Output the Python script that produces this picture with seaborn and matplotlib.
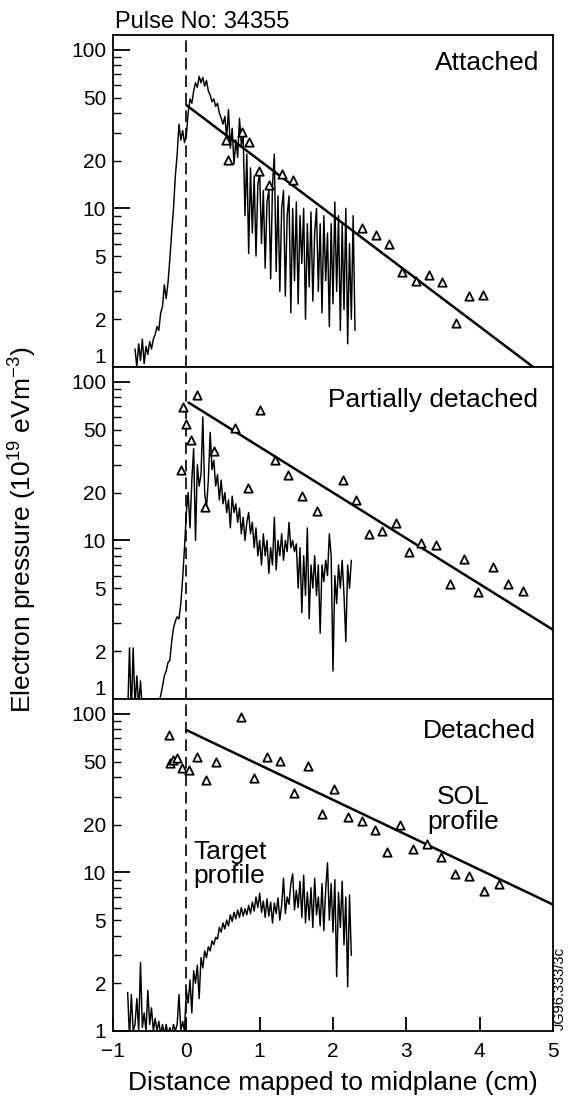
import numpy as np
import pandas as pd
import matplotlib
matplotlib.use("Agg")
import matplotlib.pyplot as plt
import seaborn as sns
from matplotlib.ticker import FixedLocator, FuncFormatter

# ---------------- data ----------------
panel_labels = ["Attached", "Partially detached", "Detached"]
pulse_title = "Pulse No: 34355"

# Target (probe) profiles, sampled every 0.025 cm starting at the given x
target_step = 0.025
target_start_attached = -0.70
target_y_attached = [
    1.3, 1.0, 1.4, 1.1, 1.5, 1.05, 1.35, 1.2, 1.45, 1.3,
    1.5, 1.6, 1.8, 1.7, 2.2, 2.4, 3.3, 2.7, 3.4, 4.8,
    7.0, 10, 16, 22, 34, 27, 31, 26, 29, 40,
    49, 46, 55, 62, 58, 68, 62, 67, 59, 64,
    55, 52, 47, 49, 44, 46, 40, 37, 34, 38,
    28, 42, 24, 32, 19, 27, 21, 37, 25, 29,
    9, 22, 5.2, 18, 7, 16, 5, 14, 17, 6,
    13, 4.2, 11, 13, 3.6, 14, 22, 4, 12, 3.0,
    10, 13, 2.8, 9, 12, 2.2, 10, 3.5, 11, 2.5,
    9, 4.5, 10, 2.0, 8, 3.2, 9.5, 2.6, 7, 10,
    3, 8, 2.2, 9, 3.5, 7, 1.8, 8, 2.5, 11,
    3, 9, 1.7, 8, 2.3, 10, 1.4, 6, 2, 9,
    1.7,
]
target_start_partial = -0.80
target_y_partial = [
    0.8, 2.1, 0.8, 2.1, 0.9, 1.4, 0.9, 1.3, 0.85, 0.8,
    0.8, 0.7, 0.7, 0.7, 0.7, 0.75, 0.85, 0.95, 1.05, 1.2,
    1.4, 1.5, 1.7, 1.75, 2.3, 2.8, 3.1, 3.3, 3.2, 4.0,
    5.8, 9, 15, 20, 12, 24, 38, 10, 30, 22,
    26, 60, 20, 16, 24, 48, 28, 32, 22, 26,
    18, 24, 17, 20, 15, 18, 12, 19, 15, 17,
    13, 16, 11, 14, 10, 13, 15, 11, 13, 9,
    12, 8, 10, 7, 11, 8, 10, 6.2, 9, 7,
    14, 6.5, 10, 8, 11, 7.5, 10, 8.5, 13, 9,
    10, 8.5, 9.5, 5, 9, 3.5, 8, 4.5, 12, 3.2,
    7, 5, 8, 4.5, 7, 2.6, 7, 5.5, 7.5, 6,
    11, 8, 1.5, 6, 4, 7, 5, 7.5, 4.5, 2.3,
    7, 5, 7.5,
]
target_start_detached = -0.80
target_y_detached = [
    1.75, 0.9, 1.7, 1.0, 1.1, 1.6, 1.0, 2.7, 1.05, 1.3,
    1.0, 1.8, 1.1, 1.4, 1.0, 1.2, 1.0, 1.15, 0.95, 1.1,
    0.95, 1.1, 0.95, 1.05, 0.95, 1.1, 1.0, 1.1, 1.7, 1.0,
    1.15, 1.0, 1.8, 1.5, 2.1, 1.3, 2.4, 2.0, 2.6, 1.6,
    2.9, 2.5, 3.2, 2.9, 3.4, 3.2, 3.7, 3.5, 3.9, 3.8,
    4.5, 4.2, 4.8, 4.4, 5.0, 4.6, 5.4, 4.9, 5.6, 5.1,
    5.8, 5.2, 6.0, 5.3, 5.9, 5.4, 6.2, 5.5, 6.5, 5.7,
    7.0, 6.0, 7.4, 5.6, 6.6, 5.2, 6.8, 5.3, 6.5, 4.8,
    6.4, 5.5, 6.9, 5.0, 6.2, 9.2, 5.5, 7.0, 6.3, 8.5,
    9.8, 5.8, 7.7, 6.0, 8.8, 5.2, 9.6, 4.8, 7.5, 5.0,
    8.0, 4.5, 9.2, 5.4, 7.0, 4.6, 8.5, 4.3, 7.8, 11.5,
    5.0, 8.5, 4.2, 9.0, 2.2, 7.5, 4.5, 8.8, 3.5, 7.0,
    1.9, 7.2, 3.0,
]

# SOL (upstream) profile points
sol_x_attached = [0.54, 0.57, 0.76, 0.86, 0.985, 1.13, 1.31, 1.46, 2.39, 2.59,
                  2.76, 2.94, 3.13, 3.31, 3.48, 3.68, 3.86, 4.05]
sol_y_attached = [27, 20.2, 30.5, 26.4, 17.3, 14, 16.5, 15.2, 7.5, 6.8,
                  6.0, 4.0, 3.5, 3.8, 3.46, 1.9, 2.8, 2.84]
sol_x_partial = [-0.077, -0.05, 0.0, 0.06, 0.146, 0.26, 0.38, 0.67, 0.84, 1.01,
                 1.21, 1.39, 1.58, 1.78, 2.14, 2.32, 2.49, 2.67, 2.86, 3.03,
                 3.20, 3.40, 3.59, 3.78, 3.98, 4.18, 4.38, 4.59]
sol_y_partial = [27.9, 69.5, 54.5, 42.7, 82, 16.3, 36.6, 50.9, 21.3, 66,
                 32, 25.9, 19.1, 15.4, 24.1, 18, 10.9, 11.5, 12.8, 8.5,
                 9.7, 9.3, 5.3, 7.6, 4.7, 6.8, 5.3, 4.8]
sol_x_detached = [-0.235, -0.225, -0.175, -0.126, -0.062, 0.03, 0.146, 0.27, 0.41, 0.74,
                  0.92, 1.10, 1.28, 1.47, 1.66, 1.85, 2.02, 2.21, 2.39, 2.57,
                  2.73, 2.91, 3.09, 3.28, 3.47, 3.66, 3.86, 4.06, 4.26]
sol_y_detached = [73, 49, 51, 53, 45.3, 44.2, 53.7, 38.2, 49.4, 94.8,
                  39.2, 53.5, 50.4, 31.8, 47.1, 23.5, 33.8, 22.3, 21.1, 18.4,
                  13.4, 19.8, 14.1, 15, 12.5, 9.8, 9.5, 7.6, 8.4]

# exponential fits (end points)
fit_x_attached = [0.0, 4.73]
fit_y_attached = [44.8, 1.0]
fit_x_partial = [0.03, 4.99]
fit_y_partial = [74, 2.75]
fit_x_detached = [0.0, 4.99]
fit_y_detached = [79, 6.3]

x_ticks = [-1, 0, 1, 2, 3, 4, 5]

# ---------------- style ----------------
sns.set_theme(style="ticks")
plt.rcParams["font.family"] = ["Liberation Sans", "DejaVu Sans"]
plt.rcParams["mathtext.fontset"] = "custom"
plt.rcParams["mathtext.rm"] = "Liberation Sans"
plt.rcParams["mathtext.it"] = "Liberation Sans:italic"
plt.rcParams["mathtext.bf"] = "Liberation Sans:bold"
plt.rcParams["axes.unicode_minus"] = True

fig = plt.figure(figsize=(5.71, 11.04), dpi=100)
L, R = 113 / 571, 553 / 571
B, T = 1 - 1031 / 1104, 1 - 35 / 1104
h = (T - B) / 3
axes = [fig.add_axes([L, T - (i + 1) * h, R - L, h]) for i in range(3)]

targets = [
    (target_start_attached, target_y_attached),
    (target_start_partial, target_y_partial),
    (target_start_detached, target_y_detached),
]
sols = [
    (sol_x_attached, sol_y_attached),
    (sol_x_partial, sol_y_partial),
    (sol_x_detached, sol_y_detached),
]
fits = [
    (fit_x_attached, fit_y_attached),
    (fit_x_partial, fit_y_partial),
    (fit_x_detached, fit_y_detached),
]
label_pos = [(0.968, 0.952), (0.966, 0.937), (0.962, 0.94)]

minor_locs = [v * d for d in (1, 10) for v in range(2, 10)]

for i, ax in enumerate(axes):
    ax.set_yscale("log")
    start, ty = targets[i]
    tx = np.round(start + target_step * np.arange(len(ty)), 4)
    df_t = pd.DataFrame({"x": tx, "y": ty})
    sns.lineplot(data=df_t, x="x", y="y", ax=ax, color="black", linewidth=1.05,
                 estimator=None, sort=False, zorder=2)
    fx, fy = fits[i]
    sns.lineplot(x=fx, y=fy, ax=ax, color="black", linewidth=1.8,
                 estimator=None, sort=False, zorder=3)
    sx, sy = sols[i]
    df_s = pd.DataFrame({"x": sx, "y": sy})
    sns.scatterplot(data=df_s, x="x", y="y", ax=ax, marker="^", s=36,
                    color="white", edgecolor="black", linewidth=1.3, zorder=4)
    ax.axvline(0, color="black", linewidth=1.2, linestyle=(0, (7, 3.5)), zorder=1)

    ax.set_xlim(-1, 5)
    ax.set_ylim(1, 124)
    ax.set_xlabel("")
    ax.set_ylabel("")
    for sp in ax.spines.values():
        sp.set_linewidth(1.3)
        sp.set_color("black")

    ax.yaxis.set_major_locator(FixedLocator([1, 10, 100]))
    ax.yaxis.set_minor_locator(FixedLocator(minor_locs))
    ax.yaxis.set_major_formatter(FuncFormatter(lambda v, p: f"{v:g}"))
    ax.yaxis.set_minor_formatter(
        FuncFormatter(lambda v, p: f"{v:g}" if round(v) in (2, 5, 20, 50) else ""))
    ax.tick_params(axis="y", which="major", direction="in", length=12, width=1.3,
                   labelsize=15, pad=5, left=True, right=False, colors="black")
    ax.tick_params(axis="y", which="minor", direction="in", length=6, width=1.0,
                   labelsize=15, pad=5, left=True, right=False, colors="black")

    if i < 2:
        ax.tick_params(axis="x", which="both", length=0, labelbottom=False)
    else:
        ax.set_xticks(x_ticks)
        ax.set_xticklabels([f"{v:g}".replace("-", "\u2212") for v in x_ticks])
        ax.tick_params(axis="x", which="major", direction="in", length=10, width=1.3,
                       labelsize=15, pad=8, bottom=True, top=False, colors="black")
        ax.tick_params(axis="x", which="minor", length=0)

    lx, ly = label_pos[i]
    ax.text(lx, ly, panel_labels[i], transform=ax.transAxes, ha="right", va="top",
            fontsize=19, color="black")

# In the upper two panels the "1" label sits just above the panel bottom
fig.canvas.draw()
for ax in axes[:2]:
    for tick in ax.yaxis.get_major_ticks():
        if abs(tick.get_loc() - 1) < 1e-9:
            tick.label1.set_verticalalignment("bottom")

# annotations in the detached panel
axes[2].text(3.78, 25, "SOL\nprofile", ha="center", va="center", fontsize=19,
             linespacing=1.05, color="black")
axes[2].text(0.1, 11.3, "Target\nprofile", ha="left", va="center", fontsize=19,
             linespacing=1.05, color="black")

axes[2].set_xlabel("Distance mapped to midplane (cm)", fontsize=19, color="black",
                   va="center")
axes[2].xaxis.set_label_coords(0.5, -0.157)
axes[1].set_ylabel(r"Electron pressure (10$^{19}$ eVm$^{-3}$)", fontsize=19,
                   color="black", va="center")
axes[1].yaxis.set_label_coords(-0.204, 0.51)

fig.text(115 / 571, 1 - 28 / 1104, pulse_title, ha="left", va="baseline",
         fontsize=17, color="black")
fig.text(560 / 571, 1 - 1030 / 1104, "JG96.333/3c", ha="center", va="bottom",
         rotation=90, fontsize=10.5, color="black")

fig.savefig("out.png", dpi=100, facecolor="white")
